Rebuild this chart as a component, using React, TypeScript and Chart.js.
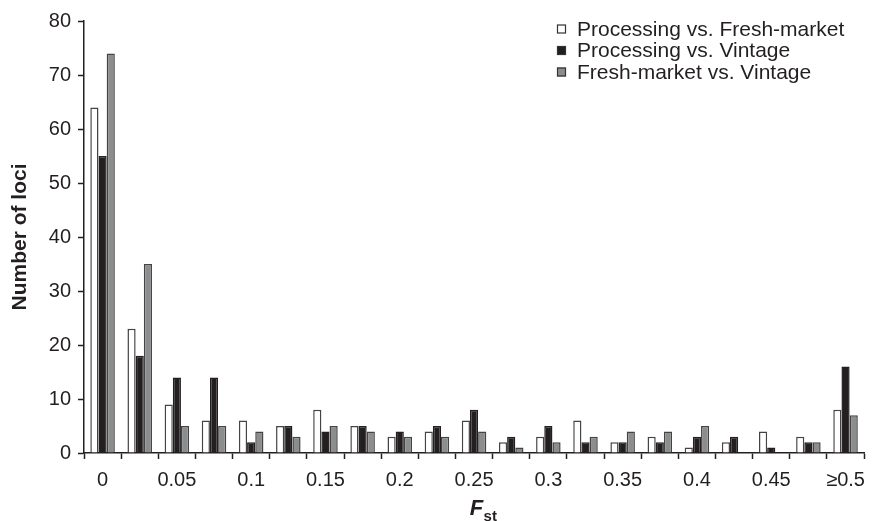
import React, { useEffect, useRef } from "react";
import { Chart, registerables } from "chart.js";

Chart.register(...registerables);

const categories = [
  "0", "0.025", "0.05", "0.075", "0.1", "0.125", "0.15", "0.175", "0.2", "0.225",
  "0.25", "0.275", "0.3", "0.325", "0.35", "0.375", "0.4", "0.425", "0.45", "0.475", "≥0.5",
];
const tickLabels = [
  "0", "", "0.05", "", "0.1", "", "0.15", "", "0.2", "", "0.25", "", "0.3", "", "0.35", "",
  "0.4", "", "0.45", "", "≥0.5",
];
const processingVsFresh = [64, 23, 9, 6, 6, 5, 8, 5, 3, 4, 6, 2, 3, 6, 2, 3, 1, 2, 4, 3, 8];
const processingVsVintage = [55, 18, 14, 14, 2, 5, 4, 5, 4, 5, 8, 3, 5, 2, 2, 2, 3, 3, 1, 2, 16];
const freshVsVintage = [74, 35, 5, 5, 4, 3, 5, 4, 3, 3, 4, 1, 2, 3, 4, 4, 5, 0, 0, 2, 7];
const seriesNames = [
  "Processing vs. Fresh-market",
  "Processing vs. Vintage",
  "Fresh-market vs. Vintage",
];
const yTicks = { min: 0, max: 80, step: 10 };

const FONT = "'Liberation Sans', Arial, Helvetica, sans-serif";
const TEXT = "#231f20";

const legendPlugin = {
  id: "customLegend",
  afterDraw(chart: any) {
    const ctx = chart.ctx;
    ctx.save();
    ctx.font = `21px ${FONT}`;
    ctx.textBaseline = "middle";
    ctx.textAlign = "left";
    const x0 = 557;
    const ys = [29, 50.5, 72];
    chart.data.datasets.forEach((ds: any, i: number) => {
      const y = ys[i];
      ctx.fillStyle = ds.backgroundColor;
      ctx.fillRect(x0, y - 4.5, 9, 9);
      ctx.strokeStyle = "#333";
      ctx.lineWidth = 1.2;
      ctx.strokeRect(x0 + 0.5, y - 4, 8, 8);
      ctx.fillStyle = TEXT;
      ctx.fillText(ds.label, x0 + 20, y + 1);
    });
    ctx.restore();
  },
};

const xTitlePlugin = {
  id: "xTitle",
  afterDraw(chart: any) {
    const ctx = chart.ctx;
    const { left, right } = chart.chartArea;
    ctx.save();
    ctx.fillStyle = TEXT;
    ctx.textBaseline = "alphabetic";
    ctx.textAlign = "left";
    ctx.font = `italic bold 22px ${FONT}`;
    const fw = ctx.measureText("F").width;
    ctx.font = `bold 15px ${FONT}`;
    const sw = ctx.measureText("st").width;
    const cx = (left + right) / 2 + 9;
    const x = cx - (fw + sw) / 2;
    ctx.font = `italic bold 22px ${FONT}`;
    ctx.fillText("F", x, 515);
    ctx.font = `bold 15px ${FONT}`;
    ctx.fillText("st", x + fw + 0.5, 521);
    ctx.restore();
  },
};

export default function App() {
  const ref = useRef<HTMLCanvasElement | null>(null);

  useEffect(() => {
    if (!ref.current) return;
    const chart = new Chart(ref.current, {
      type: "bar",
      data: {
        labels: categories,
        datasets: [
          {
            label: seriesNames[0],
            data: processingVsFresh,
            backgroundColor: "#ffffff",
            borderColor: "#444444",
            borderWidth: 1.5,
          },
          {
            label: seriesNames[1],
            data: processingVsVintage,
            backgroundColor: "#231f20",
            borderColor: "#231f20",
            borderWidth: 1.5,
          },
          {
            label: seriesNames[2],
            data: freshVsVintage,
            backgroundColor: "#8c8d8f",
            borderColor: "#444444",
            borderWidth: 1.5,
          },
        ] as any,
      },
      options: {
        animation: false,
        responsive: true,
        maintainAspectRatio: false,
        layout: { padding: { top: 21, right: 3, left: 0, bottom: 0 } },
        datasets: { bar: { categoryPercentage: 0.66, barPercentage: 1 } } as any,
        plugins: {
          legend: { display: false },
          tooltip: { enabled: false },
        },
        scales: {
          x: {
            type: "category",
            offset: true,
            grid: {
              offset: true,
              drawOnChartArea: false,
              drawTicks: true,
              tickLength: 6,
              tickWidth: 1.5,
              tickColor: TEXT,
            },
            border: { display: true, color: TEXT, width: 1.5 },
            ticks: {
              autoSkip: false,
              maxRotation: 0,
              minRotation: 0,
              padding: 9,
              color: TEXT,
              font: { family: FONT, size: 20 },
              callback: (_v: any, i: number) => tickLabels[i],
            },
            afterFit: (scale: any) => {
              scale.height = 68;
            },
          },
          y: {
            min: yTicks.min,
            max: yTicks.max,
            grid: {
              drawOnChartArea: false,
              drawTicks: true,
              tickLength: 6,
              tickWidth: 1.5,
              tickColor: TEXT,
            },
            border: { display: true, color: TEXT, width: 1.5 },
            ticks: {
              stepSize: yTicks.step,
              padding: 7,
              color: TEXT,
              font: { family: FONT, size: 20 },
            },
            title: {
              display: true,
              text: "Number of loci",
              color: TEXT,
              font: { family: FONT, size: 21, weight: "bold" },
              padding: { top: 8, bottom: 0 },
            },
            afterFit: (scale: any) => {
              scale.width = 84;
            },
          },
        },
      },
      plugins: [legendPlugin, xTitlePlugin],
    });
    return () => chart.destroy();
  }, []);

  return (
    <div style={{ position: "fixed", left: 0, top: 0, width: 874, height: 521, background: "#fff" }}>
      <canvas ref={ref} />
    </div>
  );
}
